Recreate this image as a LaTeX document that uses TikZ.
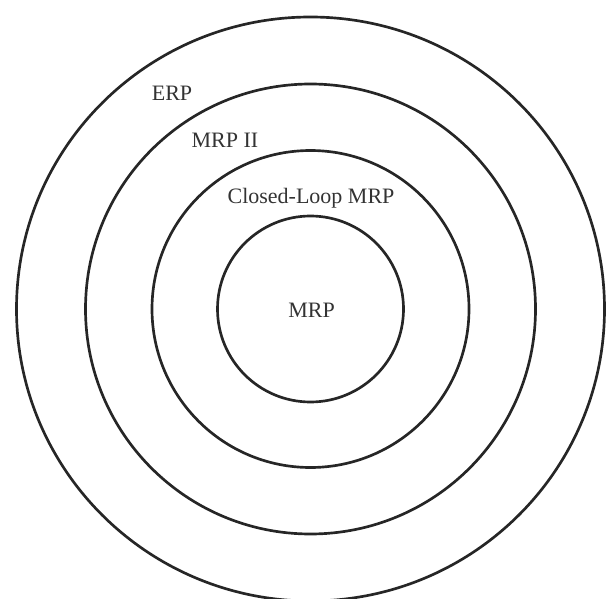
\documentclass[tikz,border=0pt]{standalone}
\usepackage{fontspec}
\setmainfont{Liberation Serif}
\begin{document}
\begin{tikzpicture}[
    x=0.75pt,
    y=-0.75pt,
    line cap=round,
    ring/.style={
        line width=2pt,
        draw=black!85
    },
    every node/.style={
        font=\fontsize{16.5}{18}\selectfont,
        text=black!80,
        inner sep=0pt
    }
]

% =================================================
% Рамка рисунка
% =================================================

\useasboundingbox (0,0) rectangle (610,599);

% =================================================
% Центр и окружности
% =================================================

\coordinate (O) at (310.5,309);

\draw[ring] (O) circle[radius=93];
\draw[ring] (O) circle[radius=158.5];
\draw[ring] (O) circle[radius=225];
\draw[ring] (O) circle[x radius=294, y radius=292];

% =================================================
% Подписи
% =================================================

\node (mrp)    at (311.5,310) {MRP};
\node (closed) at (311,198)   {Closed-Loop MRP};
\node (mrpii)  at (225,140)   {MRP II};
\node (erp)    at (172,93)    {ERP};

\end{tikzpicture}
\end{document}
